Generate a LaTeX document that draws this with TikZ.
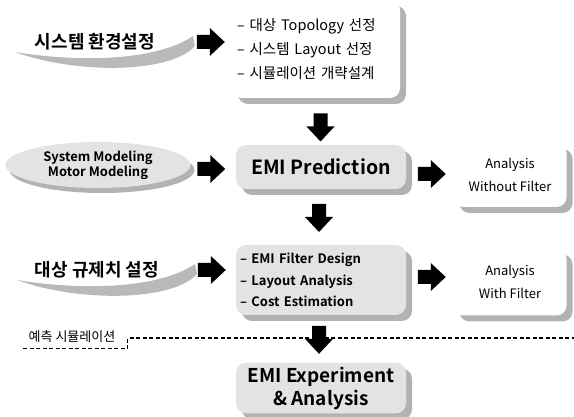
\documentclass[tikz,border=0pt]{standalone}
\usepackage{fontspec}
\setmainfont{Noto Sans CJK KR}[BoldFont={Noto Sans CJK KR Bold}]
\usetikzlibrary{shapes.geometric,shadows,calc}

\tikzset{
  pics/fatarrow/.style={code={
    \fill[black] (-14,-7) -- (-1,-7) -- (-1,-14) -- (14,0) -- (-1,14) -- (-1,7) -- (-14,7) -- cycle;
  }}
}

\begin{document}
\begin{tikzpicture}[
  x=1pt,y=-1pt,
  panel/.style={rounded corners=10pt,inner sep=4pt,
    drop shadow={shadow xshift=6pt,shadow yshift=-6pt,fill=gray!60,opacity=1}},
  greypanel/.style={panel,fill=gray!22,minimum width=170pt},
  whitepanel/.style={panel,fill=white,minimum width=113pt,align=center,
    font=\fontsize{13}{23}\selectfont},
  swoosh/.style={fill=gray!55},
  headline/.style={font=\fontsize{18}{20}\selectfont\bfseries},
  dashline/.style={dash pattern=on 4pt off 2.5pt,line width=1.1pt}
]
  \useasboundingbox (0,0) rectangle (574,417);

  % left column: settings and models
  \node[headline] (setup) at (95,42) {시스템 환경설정};
  \fill[swoosh,shift={(setup.center)}] (-80,10) .. controls (-20,20) and (60,20) .. (98,-6)
    -- (100,4) .. controls (75,32) and (-20,32) .. (-80,10) -- cycle;

  \node[ellipse,fill=gray!22,minimum width=185pt,minimum height=46pt,inner sep=0pt,
    drop shadow={shadow xshift=4pt,shadow yshift=-5pt,fill=gray!60,opacity=1},
    align=center,font=\fontsize{13}{15}\selectfont\bfseries] (model) at (98,165)
    {System Modeling\\Motor Modeling};

  \node[headline] (rule) at (97,270) {대상 규제치 설정};
  \fill[swoosh,shift={(rule.center)}] (-80,10) .. controls (-20,20) and (60,20) .. (98,-6)
    -- (100,4) .. controls (75,32) and (-20,32) .. (-80,10) -- cycle;

  % middle column
  \node[panel,fill=white,minimum width=168pt,minimum height=98pt,align=left,
    text width=158pt,font=\fontsize{14.5}{24}\selectfont] (toplist) at (316,49)
    {– 대상 Topology 선정\\– 시스템 Layout 선정\\– 시뮬레이션 개략설계};

  \node[greypanel,minimum height=44pt,font=\fontsize{19.5}{20}\selectfont\bfseries]
    (predict) at (321,167) {EMI Prediction};

  \node[greypanel,minimum height=70pt,align=left,text width=162pt,
    font=\fontsize{13}{21.5}\selectfont\bfseries] (design) at (321,280)
    {– EMI Filter Design\\– Layout Analysis\\– Cost Estimation};

  \node[greypanel,minimum height=46pt,align=center,
    font=\fontsize{19}{23}\selectfont\bfseries] (experiment) at (321,388)
    {EMI Experiment\\\& Analysis};

  % right column
  \node[whitepanel,minimum height=64pt] (nofilter) at (510,175) {Analysis\\Without Filter};
  \node[whitepanel,minimum height=67pt] (withfilter) at (510,282) {Analysis\\With Filter};

  % block arrows
  \pic (a1) at ($(setup.east -| toplist.west)+(-21,0)$) {fatarrow};
  \pic (a2) at ($(model.east)!.5!(predict.west)+(-2,3)$) {fatarrow};
  \pic (a3) at ($(predict.east)!.5!(nofilter.west)+(2,3)$) {fatarrow};
  \pic (a4) at ($(rule.east -| design.west)+(-24,0)$) {fatarrow};
  \pic (a5) at ($(design.east)!.5!(withfilter.west)+(2,-4)$) {fatarrow};
  \pic[rotate=-90] (d1) at ($(toplist.south)!.5!(predict.north)+(2,6)$) {fatarrow};
  \pic[rotate=-90] (d2) at ($(predict.south)!.5!(design.north)+(-2,1)$) {fatarrow};
  \pic[rotate=-90] (d3) at ($(design.south)!.5!(experiment.north)+(-2,1)$) {fatarrow};

  % simulation boundary
  \node[font=\fontsize{13}{15}\selectfont] (simlabel) at (72,337) {예측 시뮬레이션};
  \coordinate (cutend) at (574,338);
  \draw[dashline] ($(simlabel.south west)+(-2,2)$) -| ($(simlabel.east)+(9,1)$) -- (cutend);
\end{tikzpicture}
\end{document}
